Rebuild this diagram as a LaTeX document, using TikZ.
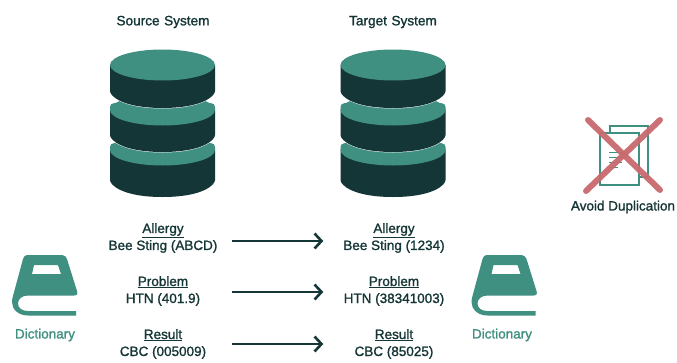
\documentclass[tikz,border=0pt]{standalone}
\usepackage{fontspec}
\setmainfont[FakeBold=1.3]{Liberation Sans}
\usetikzlibrary{arrows.meta}
\definecolor{tealc}{HTML}{3F9080}
\definecolor{darkc}{HTML}{153636}
\definecolor{redc}{HTML}{C96A6E}
\tikzset{
  x=1pt,y=-1pt,
  title/.style={font=\fontsize{13.6}{15}\selectfont,text=darkc,inner sep=0pt,text width=138pt,align=center},
  entry/.style={font=\fontsize{13.5}{17}\selectfont,text=darkc,inner sep=0pt,minimum width=138pt,align=center},
  dict/.style={font=\fontsize{13.5}{15}\selectfont,text=tealc,inner sep=0pt},
  flow/.style={draw=darkc,line width=2.6pt,-{Straight Barb[length=7pt,width=15pt,line width=2.6pt]}},
  face/.style={fill=tealc},
  bookfill/.style={fill=tealc,even odd rule,line join=round},
  pg/.style={draw=tealc,line width=1.6pt,fill=white},
  cross/.style={draw=redc,line width=6pt,line cap=round,opacity=.95}
}
\newcommand{\disk}[3]{%
  \fill[white] (#1-53.5,#2) -- (#1-53.5,#2+#3-2) .. controls (#1-53.5,#2+#3+3) and (#1-40,#2+#3+15.5) .. (#1,#2+#3+15.5) .. controls (#1+40,#2+#3+15.5) and (#1+53.5,#2+#3+3) .. (#1+53.5,#2+#3-2) -- (#1+53.5,#2) -- cycle;
  \fill[darkc] (#1-52.5,#2) -- (#1-52.5,#2+#3-2) .. controls (#1-52.5,#2+#3+3) and (#1-40,#2+#3+15) .. (#1,#2+#3+15) .. controls (#1+40,#2+#3+15) and (#1+52.5,#2+#3+3) .. (#1+52.5,#2+#3-2) -- (#1+52.5,#2) -- cycle;
  \fill[face] (#1,#2) ellipse[x radius=52.5,y radius=15.5];
}
\newcommand{\ears}[2]{%
  \fill[face] (#1-52.5,#2) -- (#1-52.5,#2-3) .. controls (#1-52.5,#2-5) and (#1-51,#2-7) .. (#1-48,#2-7) -- (#1+48,#2-7) .. controls (#1+51,#2-7) and (#1+52.5,#2-5) .. (#1+52.5,#2-3) -- (#1+52.5,#2) -- cycle;
}
\newcommand{\book}[1]{%
  \begin{scope}[xshift=#1]
  \path[bookfill] (27,255) -- (62,255) .. controls (65,255) and (66,257) .. (67,259) -- (77,291) .. controls (78,294) and (77,295.5) .. (74,295.5) -- (28,295.5) .. controls (22,295.5) and (18,299) .. (18,303.5) .. controls (18,308) and (22,311) .. (28,311) -- (76,311) -- (76,315.5) -- (28,315.5) .. controls (18,315.5) and (12,309) .. (12,302) .. controls (12,300) and (12.5,298) .. (13,296) -- (23,259) .. controls (24,256.5) and (25,255) .. (27,255) -- cycle
  (34,265) -- (58,265) -- (61,274) -- (32,274) -- cycle;
  \end{scope}}
\begin{document}
\begin{tikzpicture}
\useasboundingbox (0,0) rectangle (677,362);
\fill[white] (0,0) rectangle (677,362);
\node[title] (srct) at (163,22) {Source System};
\node[title] (tgtt) at (393,22) {Target System};
\disk{162.5}{150}{32}
\ears{162.5}{150}
\disk{162.5}{110}{27}
\ears{162.5}{110}
\disk{162.5}{65}{28}
\disk{393}{150}{32}
\ears{393}{150}
\disk{393}{110}{27}
\ears{393}{110}
\disk{393}{65}{28}
\node[entry] (a1) at (163,238) {\underline{Allergy}\\Bee Sting (ABCD)};
\node[entry] (a2) at (163,291) {\underline{Problem}\\HTN (401.9)};
\node[entry] (a3) at (163,344) {\underline{Result}\\CBC (005009)};
\node[entry,minimum width=141pt] (b1) at (394,238) {\underline{Allergy}\\Bee Sting (1234)};
\node[entry,minimum width=141pt] (b2) at (394,291) {\underline{Problem}\\HTN (38341003)};
\node[entry,minimum width=141pt] (b3) at (394,344) {\underline{Result}\\CBC (85025)};
\draw[flow] ([yshift=-3pt]a1.east) -- ([yshift=-3pt]b1.west);
\draw[flow] ([yshift=-1pt]a2.east) -- ([yshift=-1pt]b2.west);
\draw[flow] ([yshift=0pt]a3.east) -- ([yshift=0pt]b3.west);
\book{0pt}
\book{459.5pt}
\node[dict] (d1) at (45,335) {Dictionary};
\node[dict] (d2) at (502,335) {Dictionary};
% avoid duplication icon
\draw[pg] (610,126) rectangle (648,177);
\draw[pg] (600,133) rectangle (639,185);
\draw[tealc,line width=1pt] (609,152) -- (622,152) (609,157) -- (625,157) (609,162) -- (622,162) (609,167) -- (618,167);
\draw[cross] (588,120) -- (660,190);
\draw[cross] (660,120) -- (586,191);
\node[font=\fontsize{13.5}{15}\selectfont,text=darkc,inner sep=0pt] (av) at (623,207) {Avoid Duplication};
\end{tikzpicture}
\end{document}
